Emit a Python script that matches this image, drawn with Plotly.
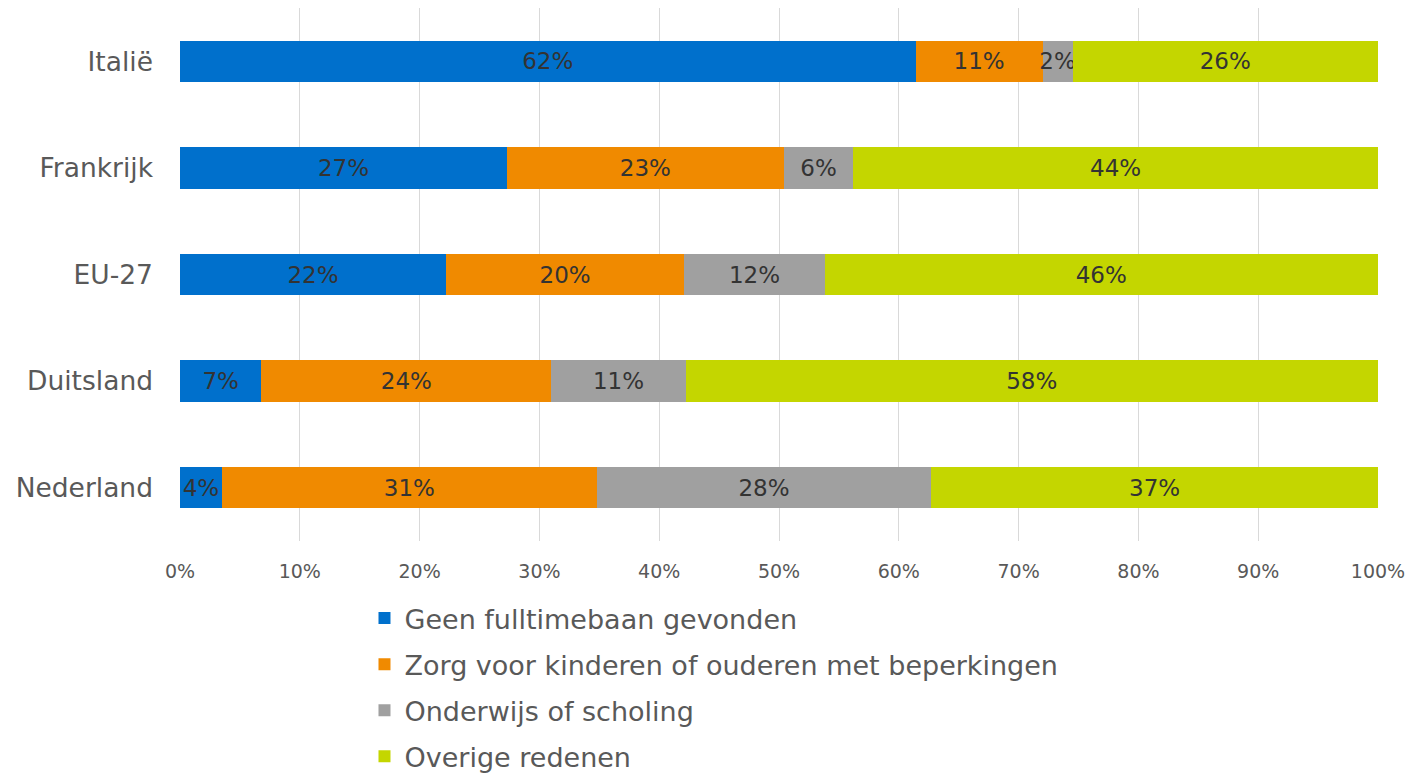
import plotly.graph_objects as go

countries = ["Italië", "Frankrijk", "EU-27", "Duitsland", "Nederland"]
series_names = [
    "Geen fulltimebaan gevonden",
    "Zorg voor kinderen of ouderen met beperkingen",
    "Onderwijs of scholing",
    "Overige redenen",
]
geen_fulltime = [61.4, 27.3, 22.2, 6.8, 3.5]
zorg = [10.6, 23.1, 19.9, 24.2, 31.3]
onderwijs = [2.5, 5.8, 11.7, 11.2, 27.9]
overige = [25.5, 43.8, 46.2, 57.8, 37.3]

geen_labels = ["62%", "27%", "22%", "7%", "4%"]
zorg_labels = ["11%", "23%", "20%", "24%", "31%"]
onderwijs_labels = ["2%", "6%", "12%", "11%", "28%"]
overige_labels = ["26%", "44%", "46%", "58%", "37%"]

tick_vals = [0, 10, 20, 30, 40, 50, 60, 70, 80, 90, 100]
tick_text = ["0%", "10%", "20%", "30%", "40%", "50%", "60%", "70%", "80%", "90%", "100%"]

colors = ["#0070CC", "#F08A00", "#A0A0A0", "#C4D600"]
values = [geen_fulltime, zorg, onderwijs, overige]
labels = [geen_labels, zorg_labels, onderwijs_labels, overige_labels]

FONT = "DejaVu Sans"
fig = go.Figure()
for i, (name, vals, labs, col) in enumerate(zip(series_names, values, labels, colors)):
    fig.add_trace(go.Bar(
        y=countries, x=vals, name=name, orientation="h",
        legendgroup=f"g{i}",
        marker=dict(color=col, line=dict(width=0)),
        text=labs, textposition="inside", insidetextanchor="middle",
        textangle=0, constraintext="none",
        textfont=dict(family=FONT, size=23, color="#333333"),
        hoverinfo="x+y+name",
    ))

fig.update_layout(
    barmode="stack",
    bargap=0.61,
    width=1414, height=773,
    margin=dict(l=172, r=44, t=0, b=239),
    plot_bgcolor="white", paper_bgcolor="white",
    font=dict(family=FONT, color="#595959"),
    xaxis=dict(
        range=[0, 100], tickvals=tick_vals, ticktext=tick_text,
        showgrid=True, gridcolor="#D9D9D9", gridwidth=1, zeroline=False,
        showline=False, tickfont=dict(size=19, color="#595959"),
        ticks="", ticklabelstandoff=17, automargin=False,
    ),
    yaxis=dict(
        autorange="reversed", showgrid=False, showline=False, ticks="",
        tickfont=dict(size=26.5, color="#595959"), ticklabelstandoff=26,
        automargin=False,
    ),
    legend=dict(
        orientation="v", x=0.154, xanchor="left", y=-0.099, yanchor="top",
        font=dict(size=27, color="#595959", family=FONT), tracegroupgap=8,
        itemwidth=30, traceorder="grouped",
    ),
    showlegend=True,
)
fig.write_html("out.html")
